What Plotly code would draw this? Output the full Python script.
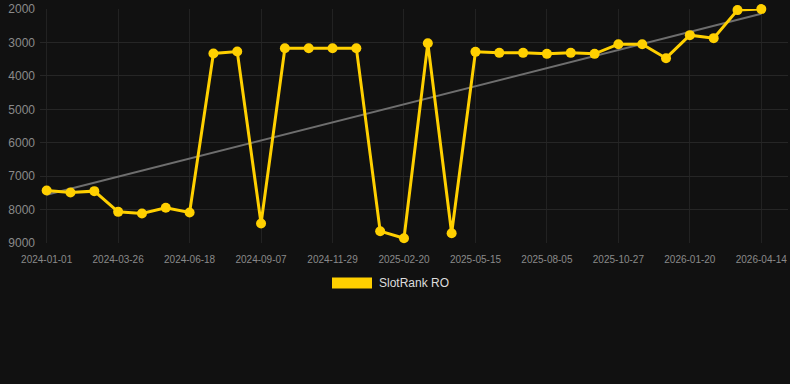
import plotly.graph_objects as go

dates = ["2024-01-01", "2024-01-29", "2024-02-26", "2024-03-26", "2024-04-23", "2024-05-21",
         "2024-06-18", "2024-07-16", "2024-08-12", "2024-09-07", "2024-10-05", "2024-11-02",
         "2024-11-29", "2024-12-27", "2025-01-24", "2025-02-20", "2025-03-20", "2025-04-17",
         "2025-05-15", "2025-06-12", "2025-07-09", "2025-08-05", "2025-09-02", "2025-09-30",
         "2025-10-27", "2025-11-24", "2025-12-22", "2026-01-20", "2026-02-17", "2026-03-17",
         "2026-04-14"]
ranks = [7430, 7490, 7450, 8070, 8120, 7950, 8090, 3330, 3270, 8420, 3170, 3170, 3170, 3170,
         8650, 8860, 3020, 8710, 3280, 3310, 3310, 3340, 3310, 3340, 3050, 3050, 3470, 2780,
         2870, 2030, 2000]
trend_dates = [dates[0], dates[-1]]
trend_values = [7560, 2140]
tick_dates = dates[::3]
y_ticks = [2000, 3000, 4000, 5000, 6000, 7000, 8000, 9000]
series_name = "SlotRank RO"

GOLD = "#FFD000"
BG = "#111111"

fig = go.Figure()
fig.add_trace(go.Scatter(x=trend_dates, y=trend_values, mode="lines",
                         line=dict(color="#6e6e6e", width=2), showlegend=False,
                         hoverinfo="skip"))
fig.add_trace(go.Scatter(x=dates, y=ranks, mode="lines+markers", name=series_name,
                         line=dict(color=GOLD, width=3),
                         marker=dict(color=GOLD, size=10),
                         cliponaxis=False, showlegend=False))

fig.update_layout(
    width=790, height=384,
    paper_bgcolor=BG, plot_bgcolor=BG,
    margin=dict(l=40, r=2, t=6, b=141),
    font=dict(family="Liberation Sans, Arial, sans-serif"),
    xaxis=dict(type="category", categoryorder="array", categoryarray=dates,
               range=[-0.28, 31.12], tickvals=tick_dates, ticktext=tick_dates,
               showgrid=True, gridcolor="#222222", gridwidth=1,
               tickfont=dict(size=10, color="#8a8a8a"), ticks="", zeroline=False,
               showline=False, ticklabelstandoff=9, ticklabeloverflow="allow"),
    yaxis=dict(range=[9003, 1997], tickvals=y_ticks, showgrid=True,
               gridcolor="#262626", gridwidth=1, tickfont=dict(size=12, color="#8a8a8a"),
               ticks="", zeroline=False, showline=False, ticklabelstandoff=4,
               ticklabeloverflow="allow"),
    shapes=[dict(type="rect", xref="paper", yref="paper",
                 x0=(332 - 40) / 748, x1=(372 - 40) / 748,
                 y0=(243 - 289) / 237, y1=(243 - 278) / 237,
                 fillcolor=GOLD, line=dict(width=0))],
    annotations=[dict(text=series_name, xref="paper", yref="paper",
                      x=(377 - 40) / 748, y=(243 - 284) / 237,
                      xanchor="left", yanchor="middle", showarrow=False,
                      font=dict(size=12, color="#dddddd"))],
)

fig.write_html("out.html", config={"displayModeBar": False},
               post_script="document.body.style.margin='0';document.body.style.background='#111111';")
